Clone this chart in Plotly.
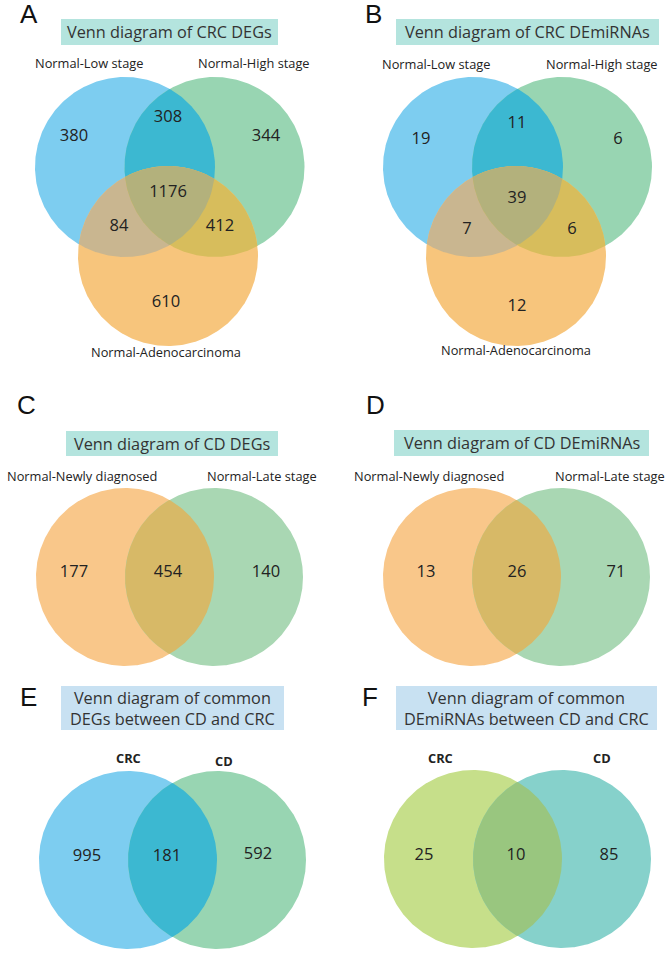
import numpy as np
import plotly.graph_objects as go

# ---------------- data ----------------
panel_letters = ["A", "B", "C", "D", "E", "F"]
titles = [
    "Venn diagram of CRC DEGs",
    "Venn diagram of CRC DEmiRNAs",
    "Venn diagram of CD DEGs",
    "Venn diagram of CD DEmiRNAs",
    "Venn diagram of common<br>DEGs between CD and CRC",
    "Venn diagram of common<br>DEmiRNAs between CD and CRC",
]
sets_A = ["Normal-Low stage", "Normal-High stage", "Normal-Adenocarcinoma"]
sets_B = ["Normal-Low stage", "Normal-High stage", "Normal-Adenocarcinoma"]
sets_C = ["Normal-Newly diagnosed", "Normal-Late stage"]
sets_D = ["Normal-Newly diagnosed", "Normal-Late stage"]
sets_E = ["CRC", "CD"]
sets_F = ["CRC", "CD"]
# 3-set region order: only1, 1&2, only2, all, 1&3, 2&3, only3
counts_A = [380, 308, 344, 1176, 84, 412, 610]
counts_B = [19, 11, 6, 39, 7, 6, 12]
# 2-set region order: only1, both, only2
counts_C = [177, 454, 140]
counts_D = [13, 26, 71]
counts_E = [995, 181, 592]
counts_F = [25, 10, 85]

# ---------------- geometry / style ----------------
W, H = 668, 953
BLUE, GREEN, ORANGE = "#7dcdf0", "#98d5b2", "#f7c57c"
BG_OV, BO_OV, GO_OV, TRIPLE = "#3cb8d1", "#c9b690", "#d7bd5c", "#b3b17c"
C_OR, C_GR, C_OV = "#f9c78a", "#a9d7b3", "#d7b967"
F_YG, F_TL, F_OV = "#c6df8a", "#86d1cb", "#99c67f"
TEAL_BOX, BLUE_BOX = "#b4e4de", "#c8e1f2"
TXT = "#333333"
FONT = "Open Sans"

panels = [
    dict(letter=(29, 14), box=(61, 19, 278, 45),
         circles=[(125, 167, 90), (214.5, 167, 90), (168, 256, 90)],
         colors=[BLUE, GREEN, ORANGE], pair_colors={(0, 1): BG_OV, (0, 2): BO_OV, (1, 2): GO_OV},
         triple=TRIPLE, sets=sets_A, counts=counts_A,
         label_pos=[(89, 63), (254, 63), (166, 352)],
         count_pos=[(74, 137), (168, 118), (266, 137), (168, 193), (119, 227), (220, 227), (166, 303)],
         boxcol=TEAL_BOX, bold=False),
    dict(letter=(373, 14), box=(396, 19, 659, 45),
         circles=[(473, 167, 90), (562, 167, 90), (516, 256, 90)],
         colors=[BLUE, GREEN, ORANGE], pair_colors={(0, 1): BG_OV, (0, 2): BO_OV, (1, 2): GO_OV},
         triple=TRIPLE, sets=sets_B, counts=counts_B,
         label_pos=[(436, 64), (602, 64), (516, 350)],
         count_pos=[(421, 140), (517, 124), (618, 140), (517, 199), (467, 230), (572, 230), (517, 307)],
         boxcol=TEAL_BOX, bold=False),
    dict(letter=(26, 405), box=(66, 431, 278, 456),
         circles=[(125, 577, 89), (214, 577, 89)],
         colors=[C_OR, C_GR], pair_colors={(0, 1): C_OV}, triple=None,
         sets=sets_C, counts=counts_C,
         label_pos=[(82, 476), (262, 476)],
         count_pos=[(74, 573), (168, 573), (266, 573)],
         boxcol=TEAL_BOX, bold=False),
    dict(letter=(375, 405), box=(394, 430, 649, 456),
         circles=[(472, 577, 89), (561, 577, 89)],
         colors=[C_OR, C_GR], pair_colors={(0, 1): C_OV}, triple=None,
         sets=sets_D, counts=counts_D,
         label_pos=[(429, 476), (610, 476)],
         count_pos=[(426, 573), (517, 573), (616, 573)],
         boxcol=TEAL_BOX, bold=False),
    dict(letter=(28, 697), box=(61, 686, 284, 730),
         circles=[(128, 860, 89), (217, 860, 89)],
         colors=[BLUE, GREEN], pair_colors={(0, 1): BG_OV}, triple=None,
         sets=sets_E, counts=counts_E,
         label_pos=[(128, 758), (224, 761)],
         count_pos=[(87, 857), (167, 857), (258, 855)],
         boxcol=BLUE_BOX, bold=True),
    dict(letter=(370, 697), box=(396, 686, 657, 730),
         circles=[(473, 859, 89), (562, 859, 89)],
         colors=[F_YG, F_TL], pair_colors={(0, 1): F_OV}, triple=None,
         sets=sets_F, counts=counts_F,
         label_pos=[(440, 758), (602, 758)],
         count_pos=[(424, 856), (516, 856), (609, 856)],
         boxcol=BLUE_BOX, bold=True),
]


def region_polygon(circs, n=400):
    """Boundary of the intersection of circles (convex), traced radially."""
    p = np.array([np.mean([c[0] for c in circs]), np.mean([c[1] for c in circs])])
    th = np.linspace(0, 2 * np.pi, n)
    u = np.stack([np.cos(th), np.sin(th)], axis=1)
    t = np.full(n, np.inf)
    for cx, cy, r in circs:
        d = p - np.array([cx, cy])
        b = u @ d
        cterm = d @ d - r * r
        tt = -b + np.sqrt(np.maximum(b * b - cterm, 0))
        t = np.minimum(t, tt)
    pts = p + u * t[:, None]
    return pts[:, 0], pts[:, 1]


fig = go.Figure()
shapes, annotations = [], []


def add_poly(xs, ys, color):
    fig.add_trace(go.Scatter(x=xs, y=ys, mode="lines", fill="toself", fillcolor=color,
                             line=dict(width=0, color=color), hoverinfo="skip", showlegend=False))


for k, pn in enumerate(panels):
    circs = pn["circles"]
    for c, col in zip(circs, pn["colors"]):
        xs, ys = region_polygon([c])
        add_poly(xs, ys, col)
    for (i, j), col in pn["pair_colors"].items():
        xs, ys = region_polygon([circs[i], circs[j]])
        add_poly(xs, ys, col)
    if pn["triple"]:
        xs, ys = region_polygon(circs)
        add_poly(xs, ys, pn["triple"])

    x0, y0, x1, y1 = pn["box"]
    shapes.append(dict(type="rect", xref="x", yref="y", x0=x0, y0=y0, x1=x1, y1=y1,
                       fillcolor=pn["boxcol"], line=dict(width=0), layer="below"))
    annotations.append(dict(x=(x0 + x1) / 2, y=(y0 + y1) / 2, xref="x", yref="y",
                            text=titles[k], showarrow=False, xanchor="center", yanchor="middle",
                            font=dict(family=FONT, size=16.3, color=TXT)))
    lx, ly = pn["letter"]
    annotations.append(dict(x=lx, y=ly, xref="x", yref="y", text=panel_letters[k], showarrow=False,
                            xanchor="center", yanchor="middle",
                            font=dict(family="Liberation Sans", size=26, color="#111111")))
    for name, (tx, ty) in zip(pn["sets"], pn["label_pos"]):
        annotations.append(dict(x=tx, y=ty, xref="x", yref="y",
                                text=f"<b>{name}</b>" if pn["bold"] else name,
                                showarrow=False, xanchor="center", yanchor="middle",
                                font=dict(family=FONT, size=12.8, color="#222222")))
    fig.add_trace(go.Scatter(x=[p[0] for p in pn["count_pos"]], y=[p[1] for p in pn["count_pos"]],
                             mode="text", text=[str(v) for v in pn["counts"]],
                             textposition="middle center",
                             textfont=dict(family=FONT, size=16.5, color="#222222"),
                             hoverinfo="skip", showlegend=False))

fig.update_layout(
    width=W, height=H, margin=dict(l=0, r=0, t=0, b=0),
    paper_bgcolor="white", plot_bgcolor="white",
    xaxis=dict(range=[0, W], visible=False, fixedrange=True),
    yaxis=dict(range=[H, 0], visible=False, fixedrange=True),
    shapes=shapes, annotations=annotations, showlegend=False,
)
fig.write_html("out.html", config={"displayModeBar": False},
               post_script="document.body.style.margin='0px';document.body.style.overflow='hidden';")
